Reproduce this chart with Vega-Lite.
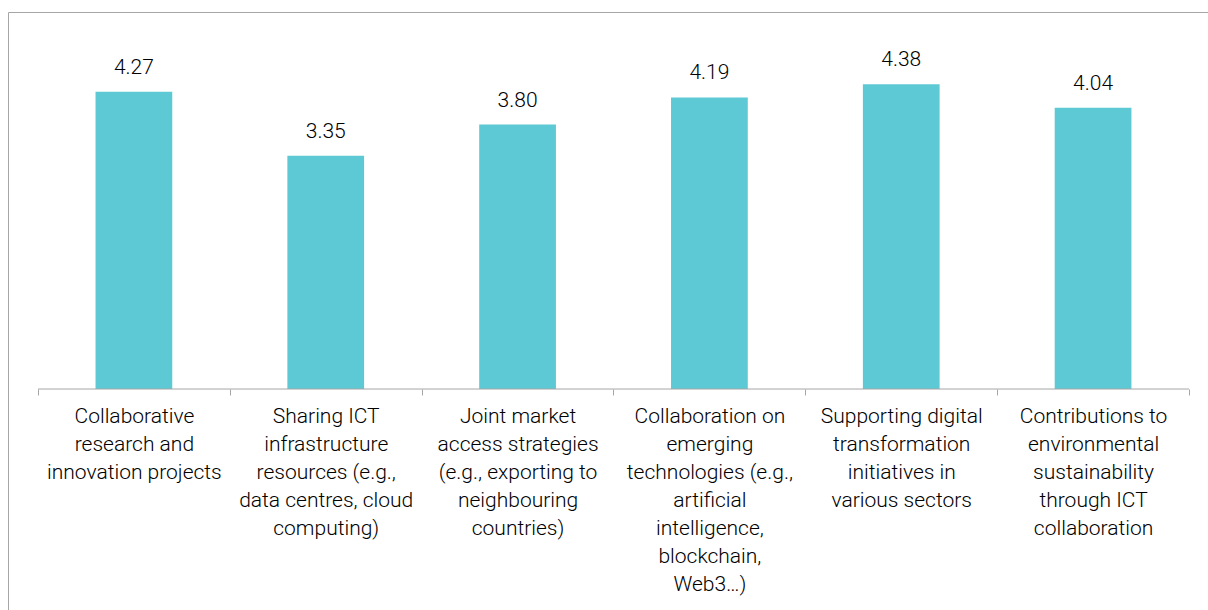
{
  "$schema": "https://vega.github.io/schema/vega-lite/v6.json",
  "width": 1200,
  "height": 598,
  "autosize": {"type": "none"},
  "padding": {"left": 8, "top": 12, "right": 0, "bottom": 0},
  "background": "white",
  "config": {"view": {"stroke": null}, "font": "Roboto"},
  "data": {
    "values": [
      {"category": "Collaborative|research and|innovation projects", "value": 4.27},
      {"category": "Sharing ICT|infrastructure|resources (e.g.,|data centres, cloud|computing)", "value": 3.35},
      {"category": "Joint market|access strategies|(e.g., exporting to|neighbouring|countries)", "value": 3.80},
      {"category": "Collaboration on|emerging|technologies (e.g.,|artificial|intelligence,|blockchain,|Web3…)", "value": 4.19},
      {"category": "Supporting digital|transformation|initiatives in|various sectors", "value": 4.38},
      {"category": "Contributions to|environmental|sustainability|through ICT|collaboration", "value": 4.04}
    ]
  },
  "encoding": {
    "x": {
      "field": "category",
      "type": "nominal",
      "sort": null,
      "scale": {"paddingInner": 0, "paddingOuter": 0.1277, "align": 0.612},
      "axis": {
        "title": null,
        "orient": "bottom",
        "offset": -221,
        "domain": false,
        "tickBand": "extent",
        "ticks": true,
        "tickSize": 6,
        "tickColor": "#A6A6A6",
        "labelAngle": 0,
        "labelAlign": "center",
        "labelBaseline": "top",
        "labelPadding": 10,
        "labelFont": "Roboto",
        "labelFontSize": 21,
        "labelFontWeight": 300,
        "labelLineHeight": 28,
        "labelColor": "#000000",
        "labelLimit": 0,
        "labelExpr": "split(datum.label, '|')"
      }
    }
  },
  "layer": [
    {
      "mark": {"type": "bar", "color": "#5DC9D4", "width": {"band": 0.4}},
      "encoding": {
        "y": {
          "field": "value",
          "type": "quantitative",
          "scale": {"domain": [-3.175, 5.417], "nice": false, "zero": false},
          "axis": {
            "title": null,
            "domain": true,
            "domainColor": "#A6A6A6",
            "ticks": false,
            "labels": false,
            "grid": true,
            "gridColor": "#A6A6A6",
            "values": [5.417]
          }
        },
        "y2": {"datum": 0}
      }
    },
    {
      "mark": {"type": "text", "align": "center", "baseline": "alphabetic", "dy": -18, "fontSize": 21, "fontWeight": 300, "font": "Roboto", "color": "#000000"},
      "encoding": {
        "y": {"field": "value", "type": "quantitative"},
        "text": {"field": "value", "type": "quantitative", "format": ".2f"}
      }
    },
    {
      "data": {"values": [{"first": "Collaborative|research and|innovation projects", "last": "Contributions to|environmental|sustainability|through ICT|collaboration"}]},
      "mark": {"type": "rule", "color": "#A6A6A6", "strokeWidth": 1},
      "encoding": {
        "x": {"field": "first", "type": "nominal", "bandPosition": 0},
        "x2": {"field": "last", "bandPosition": 1},
        "y": {"datum": 0}
      }
    }
  ]
}
